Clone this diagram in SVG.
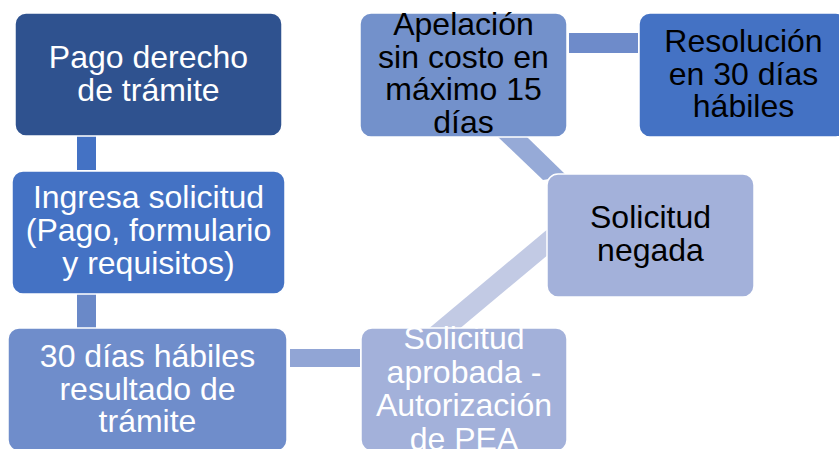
<svg xmlns="http://www.w3.org/2000/svg" width="839" height="449" viewBox="0 0 839 449">
<style>
.box{stroke:#ffffff;stroke-width:1.5}
.t{font-family:"Liberation Sans",Arial,sans-serif;font-size:32px;text-anchor:middle}
.w{fill:#ffffff}
.k{fill:#000000}
</style>
<rect width="839" height="449" fill="#ffffff"/>
<g id="connectors">
<rect x="77" y="136" width="19" height="34" fill="#4472C4"/>
<rect x="77" y="294" width="19" height="34" fill="#6A89C8"/>
<rect x="290" y="349" width="70" height="18" fill="#91A5D5"/>
<polygon points="427,330 458,330 549,254 549,228" fill="#C2CAE4"/>
<polygon points="498,137 527,137 567,176 543,180" fill="#96AAD7"/>
<rect x="569" y="33" width="69" height="20" fill="#6E8BCA"/>
</g>
<g id="n1">
<rect class="box" x="15" y="13" width="267" height="123" rx="11" fill="#2F528F"/>
<text class="t w" x="148.5" y="68">Pago derecho</text>
<text class="t w" x="148.5" y="101">de trámite</text>
</g>
<g id="n2">
<rect class="box" x="12" y="171" width="273" height="123" rx="11" fill="#4472C4"/>
<text class="t w" x="148.5" y="208">Ingresa solicitud</text>
<text class="t w" x="148.5" y="241">(Pago, formulario</text>
<text class="t w" x="148.5" y="274">y requisitos)</text>
</g>
<g id="n3">
<rect class="box" x="8" y="328" width="279" height="123" rx="11" fill="#6F8DCB"/>
<text class="t w" x="147.5" y="367">30 días hábiles</text>
<text class="t w" x="147.5" y="400">resultado de</text>
<text class="t w" x="147.5" y="432">trámite</text>
</g>
<g id="n4">
<rect class="box" x="361" y="328" width="206" height="123" rx="11" fill="#A3B1DA"/>
<text class="t w" x="464" y="349">Solicitud</text>
<text class="t w" x="464" y="382.5">aprobada -</text>
<text class="t w" x="464" y="416">Autorización</text>
<text class="t w" x="464" y="449.5">de PEA</text>
</g>
<g id="n5">
<rect class="box" x="547" y="174" width="207" height="123" rx="11" fill="#A3B1DA"/>
<text class="t k" x="650.5" y="228">Solicitud</text>
<text class="t k" x="650.5" y="261">negada</text>
</g>
<g id="n6">
<rect class="box" x="360" y="13" width="207" height="124" rx="11" fill="#7391CB"/>
<text class="t k" x="463.5" y="35">Apelación</text>
<text class="t k" x="463.5" y="67.5">sin costo en</text>
<text class="t k" x="463.5" y="100">máximo 15</text>
<text class="t k" x="463.5" y="133">días</text>
</g>
<g id="n7">
<rect class="box" x="639" y="13" width="208" height="124" rx="11" fill="#4472C4"/>
<text class="t k" x="743.5" y="52">Resolución</text>
<text class="t k" x="743.5" y="84.5">en 30 días</text>
<text class="t k" x="743.5" y="117">hábiles</text>
</g>
</svg>
